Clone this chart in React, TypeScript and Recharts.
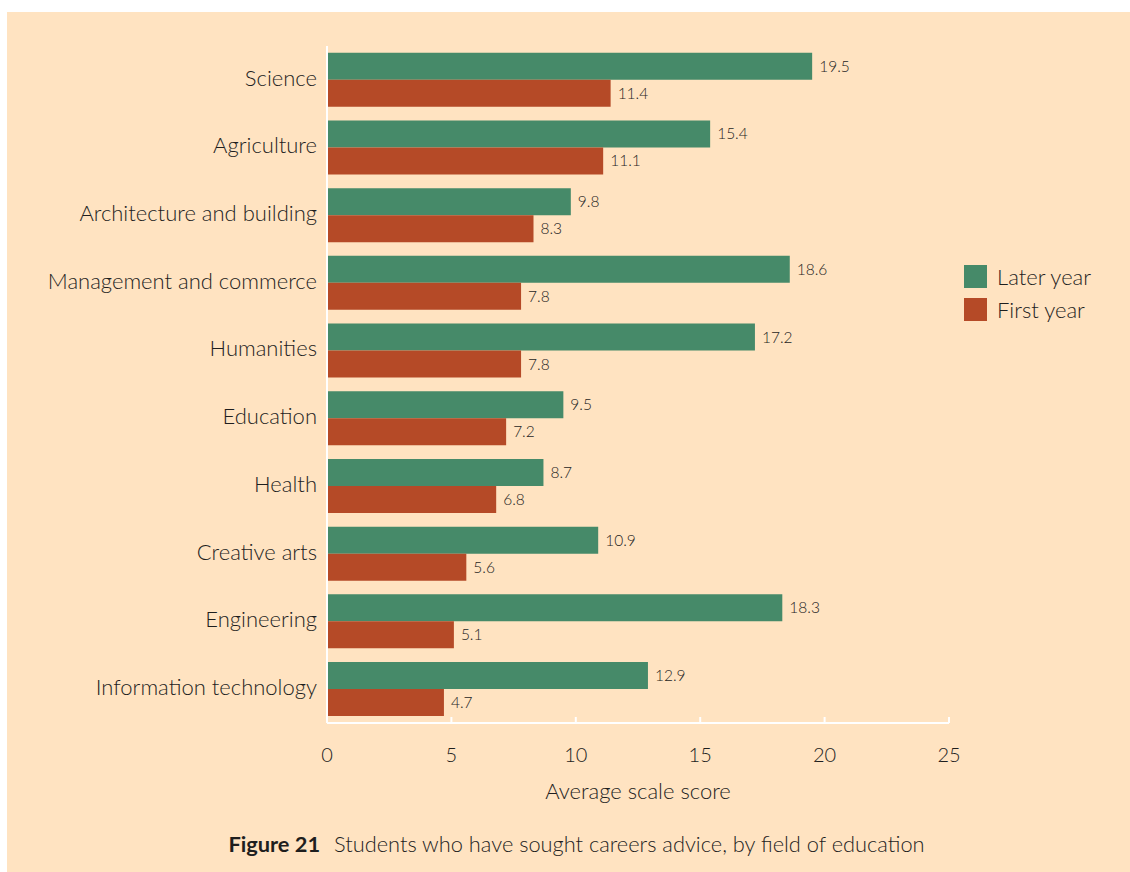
import React from 'react';
import { BarChart, Bar, XAxis, YAxis, Legend, LabelList } from 'recharts';

const fields = [
  'Science',
  'Agriculture',
  'Architecture and building',
  'Management and commerce',
  'Humanities',
  'Education',
  'Health',
  'Creative arts',
  'Engineering',
  'Information technology',
];
const laterYear = [19.5, 15.4, 9.8, 18.6, 17.2, 9.5, 8.7, 10.9, 18.3, 12.9];
const firstYear = [11.4, 11.1, 8.3, 7.8, 7.8, 7.2, 6.8, 5.6, 5.1, 4.7];
const xTicks = [0, 5, 10, 15, 20, 25];
const seriesOrder = ['Later year', 'First year'];

const GREEN = '#468a69';
const RED = '#b54a27';
const BG = '#ffe3c1';
const TEXT = '#1e1e1e';
const FONT = 'Lato, "Open Sans", sans-serif';

const data = fields.map((field, i) => ({
  field,
  later: laterYear[i],
  first: firstYear[i],
}));

function LegendBox({ payload }: any) {
  const items = [...(payload || [])].sort(
    (a: any, b: any) => seriesOrder.indexOf(a.value) - seriesOrder.indexOf(b.value)
  );
  return (
    <div style={{ fontFamily: FONT, color: TEXT, fontSize: 22, fontWeight: 300 }}>
      {items.map((p: any) => (
        <div key={p.value} style={{ display: 'flex', alignItems: 'center', height: 33 }}>
          <span style={{ width: 23, height: 23, background: p.color, display: 'inline-block', marginRight: 10 }} />
          <span>{p.value}</span>
        </div>
      ))}
    </div>
  );
}

export default function App() {
  return (
    <div style={{ position: 'absolute', left: 7, top: 12, width: 1123, height: 860, background: BG }}>
      <BarChart
        width={1123}
        height={800}
        data={data}
        layout="vertical"
        margin={{ top: 34, right: 181, bottom: 29, left: 0 }}
        barCategoryGap="10%"
        barGap={0}
      >
        <XAxis
          type="number"
          domain={[0, 25]}
          ticks={xTicks}
          height={60}
          axisLine={{ stroke: '#fff', strokeWidth: 2 }}
          tickLine={{ stroke: '#fff', strokeWidth: 2 }}
          tickSize={-6}
          tickMargin={31}
          tick={{ fill: TEXT, fontSize: 20, fontFamily: FONT, fontWeight: 300 }}
          label={{ value: 'Average scale score', position: 'bottom', offset: 0, fill: TEXT, fontSize: 22, fontFamily: FONT, fontWeight: 300 }}
        />
        <YAxis
          type="category"
          dataKey="field"
          width={320}
          axisLine={{ stroke: '#fff', strokeWidth: 2 }}
          tickLine={false}
          tickSize={0}
          tickMargin={10}
          interval={0}
          tick={{ fill: TEXT, fontSize: 22, fontFamily: FONT, fontWeight: 300, dy: -2 }}
        />
        <Legend
          layout="horizontal"
          align="center"
          verticalAlign="middle"
          content={<LegendBox />}
          wrapperStyle={{ left: 957, top: 248, width: 160 }}
        />
        <Bar dataKey="later" name="Later year" fill={GREEN} isAnimationActive={false}>
          <LabelList dataKey="later" position="right" offset={7} fill={TEXT} fontSize={15.5} fontFamily={FONT} fontWeight={300} />
        </Bar>
        <Bar dataKey="first" name="First year" fill={RED} isAnimationActive={false}>
          <LabelList dataKey="first" position="right" offset={7} fill={TEXT} fontSize={15.5} fontFamily={FONT} fontWeight={300} />
        </Bar>
      </BarChart>
      <div
        style={{
          position: 'absolute',
          top: 818,
          left: 0,
          width: 1123,
          textAlign: 'center',
          fontFamily: FONT,
          fontSize: 21.8,
          fontWeight: 300,
          color: TEXT,
          marginLeft: 8,
        }}
      >
        <b style={{ fontWeight: 700 }}>Figure 21</b>
        <span style={{ marginLeft: 14 }}>Students who have sought careers advice, by field of education</span>
      </div>
    </div>
  );
}
